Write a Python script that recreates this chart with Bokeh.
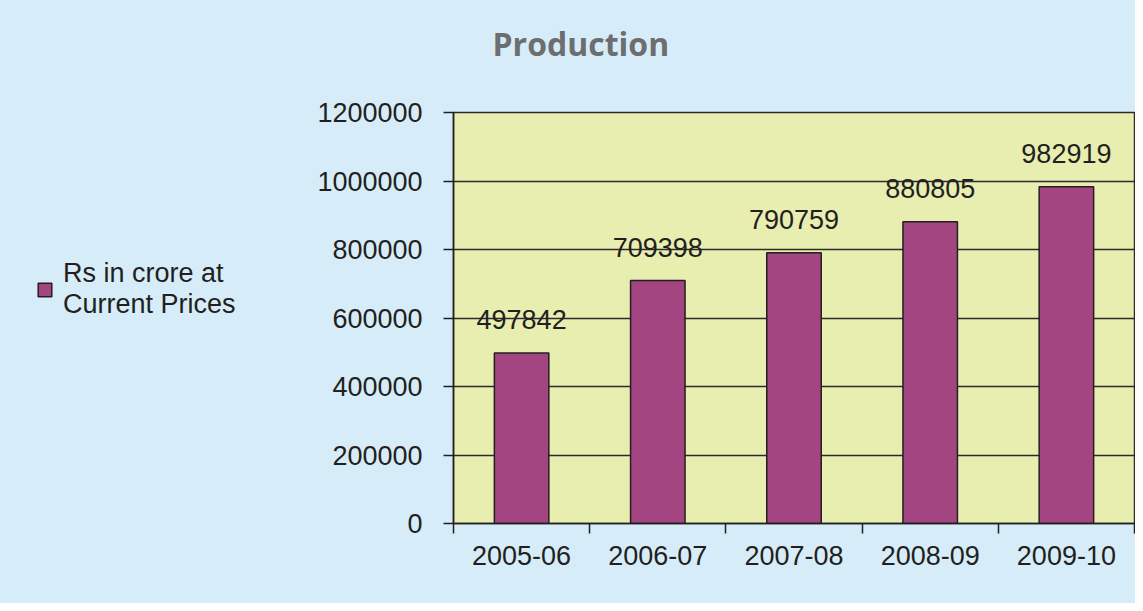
from bokeh.plotting import figure
from bokeh.layouts import column, row
from bokeh.models import (ColumnDataSource, FixedTicker, Range1d, LabelSet, Legend, LegendItem,
                          BasicTickFormatter, Label)
from bokeh.core.properties import value
from bokeh.embed import file_html
from bokeh.resources import INLINE

years = ["2005-06", "2006-07", "2007-08", "2008-09", "2009-10"]
production = [497842, 709398, 790759, 880805, 982919]
y_ticks = [0, 200000, 400000, 600000, 800000, 1000000, 1200000]
series_name = "Rs in crore at\nCurrent Prices"
chart_title = "Production"

centers = [i + 0.5 for i in range(len(years))]
bounds = [float(i) for i in range(len(years) + 1)]

src = ColumnDataSource(dict(x=centers, y=production, year=years,
                            lab=[str(v) for v in production]))

FONT = "Liberation Sans"
TXT = "#231f20"
BG = "#d6edf9"
BAR = "#a34580"


def blank(width, height):
    f = figure(width=width, height=height, output_backend="svg", toolbar_location=None,
               x_axis_type=None, y_axis_type=None, min_border=0,
               x_range=Range1d(0, 1), y_range=Range1d(0, 1))
    f.background_fill_color = BG
    f.border_fill_color = BG
    f.outline_line_color = None
    f.xgrid.visible = False
    f.ygrid.visible = False
    return f


# --- title strip ---
top = blank(1135, 80)
top.add_layout(Label(x=492, y=37, x_units="screen", y_units="screen", text=chart_title,
                     text_baseline="middle", text_align="left", text_font="Open Sans",
                     text_font_style="bold", text_font_size="32px", text_color="#6d6e70"))

# --- legend panel ---
left = blank(300, 523)
lr = left.vbar(x="x", top="y", width=0.4, source=src, fill_color=BAR,
               line_color=TXT, line_width=1.5, visible=False)
legend = Legend(items=[LegendItem(label=series_name, renderers=[lr])],
                location=(36, 203), padding=0, margin=0, spacing=0,
                glyph_width=17, glyph_height=17, label_standoff=10,
                label_text_font=FONT, label_text_font_size="27px",
                label_text_color=TXT, label_text_line_height=1.25,
                border_line_color=None, background_fill_alpha=0,
                inactive_fill_alpha=0)
left.add_layout(legend)

# --- main chart ---
p = figure(width=835, height=523, output_backend="svg", toolbar_location=None,
           x_range=Range1d(0, len(years)), y_range=Range1d(0, y_ticks[-1]),
           min_border_left=153, min_border_right=1, min_border_top=32, min_border_bottom=80)
p.background_fill_color = "#e8eeb0"
p.border_fill_color = BG
p.outline_line_color = "#2b2b2b"
p.outline_line_width = 1.5

r = p.vbar(x="x", top="y", width=0.4, source=src, fill_color=BAR,
           line_color=TXT, line_width=1.5)

labels = LabelSet(x="x", y="y", text="lab", source=src, text_align="center",
                  text_baseline="alphabetic", y_offset=24, text_font=value(FONT),
                  text_font_size="27px", text_color=TXT)
p.add_layout(labels)

xa = p.xaxis[0]
xa.ticker = FixedTicker(ticks=centers, minor_ticks=bounds)
xa.major_label_overrides = {c: y for c, y in zip(centers, years)}
xa.major_tick_out = 0
xa.major_tick_in = 0
xa.minor_tick_out = 10
xa.minor_tick_in = 0
xa.minor_tick_line_color = TXT
xa.minor_tick_line_width = 1.5
xa.axis_line_color = TXT
xa.axis_line_width = 1.5
xa.major_label_text_font = FONT
xa.major_label_text_font_size = "27px"
xa.major_label_text_color = TXT
xa.major_label_standoff = 12

ya = p.yaxis[0]
ya.ticker = FixedTicker(ticks=y_ticks)
ya.formatter = BasicTickFormatter(use_scientific=False)
ya.major_tick_out = 10
ya.major_tick_in = 0
ya.minor_tick_line_color = None
ya.major_tick_line_color = TXT
ya.major_tick_line_width = 1.5
ya.axis_line_color = TXT
ya.axis_line_width = 1.5
ya.major_label_text_font = FONT
ya.major_label_text_font_size = "27px"
ya.major_label_text_color = TXT
ya.major_label_standoff = 21

p.xgrid.grid_line_color = None
p.ygrid.grid_line_color = "#2b2b2b"
p.ygrid.grid_line_width = 1.3
p.ygrid.ticker = FixedTicker(ticks=y_ticks)

inner = row(left, p, spacing=0, styles={"background-color": BG})
layout = column(top, inner, spacing=0, styles={"background-color": BG})

open("out.html", "w").write(file_html(layout, INLINE))
